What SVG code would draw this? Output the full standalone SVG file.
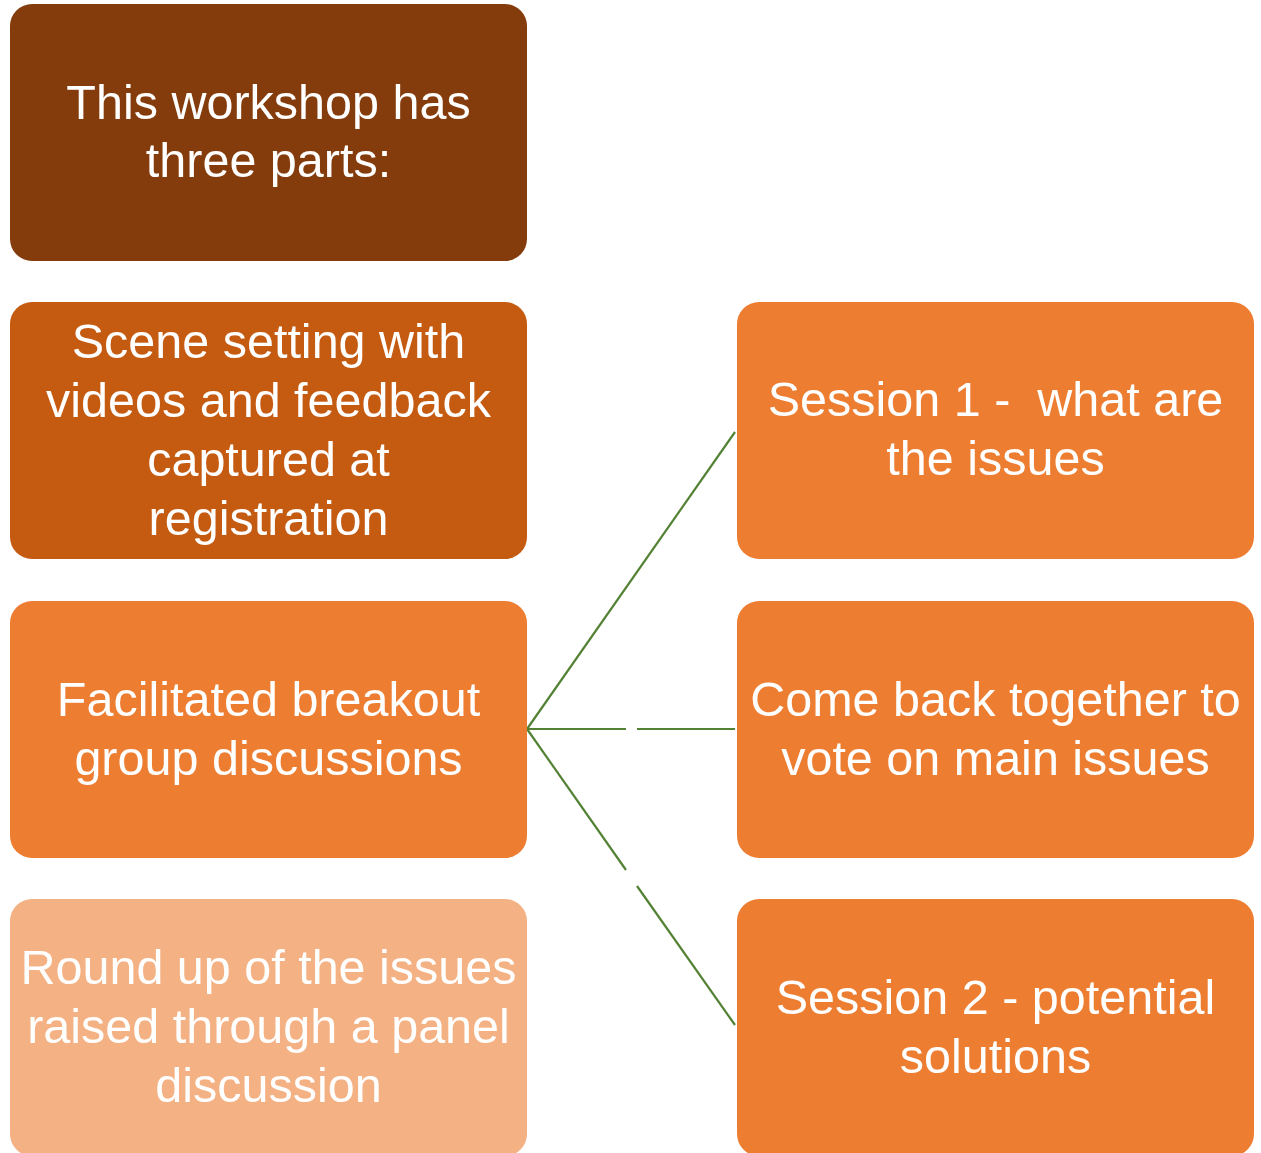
<svg xmlns="http://www.w3.org/2000/svg" width="1261" height="1153" viewBox="0 0 1261 1153">
<style>
.t{font-family:"Liberation Sans",Arial,sans-serif;font-size:48.5px;fill:#ffffff;text-anchor:middle}
.c{stroke:#548235;stroke-width:2.2;fill:none}
</style>
<rect width="1261" height="1153" fill="#ffffff"/>
<g id="connectors">
<line class="c" x1="527" y1="729" x2="735" y2="432"/>
<line class="c" x1="527" y1="729" x2="626" y2="729"/>
<line class="c" x1="637" y1="729" x2="735" y2="729"/>
<line class="c" x1="527" y1="729" x2="626" y2="870"/>
<line class="c" x1="637" y1="886" x2="735" y2="1025"/>
</g>
<g id="n-intro">
<rect x="10" y="4" width="517" height="257" rx="22" fill="#843C0C"/>
<text class="t" x="268.5"><tspan x="268.5" y="119">This workshop has</tspan><tspan x="268.5" y="177">three parts:</tspan></text>
</g>
<g id="n-scene">
<rect x="10" y="302" width="517" height="257" rx="22" fill="#C55A11"/>
<text class="t"><tspan x="268.5" y="358">Scene setting with</tspan><tspan x="268.5" y="417">videos and feedback</tspan><tspan x="268.5" y="476">captured at</tspan><tspan x="268.5" y="535">registration</tspan></text>
</g>
<g id="n-breakout">
<rect x="10" y="601" width="517" height="257" rx="22" fill="#ED7D31"/>
<text class="t"><tspan x="268.5" y="716">Facilitated breakout</tspan><tspan x="268.5" y="775">group discussions</tspan></text>
</g>
<g id="n-roundup">
<rect x="10" y="899" width="517" height="257" rx="22" fill="#F4B183"/>
<text class="t"><tspan x="268.5" y="984">Round up of the issues</tspan><tspan x="268.5" y="1043">raised through a panel</tspan><tspan x="268.5" y="1102">discussion</tspan></text>
</g>
<g id="n-session1">
<rect x="737" y="302" width="517" height="257" rx="22" fill="#ED7D31"/>
<text class="t" xml:space="preserve"><tspan x="995.5" y="416">Session 1 -  what are</tspan><tspan x="995.5" y="475">the issues</tspan></text>
</g>
<g id="n-vote">
<rect x="737" y="601" width="517" height="257" rx="22" fill="#ED7D31"/>
<text class="t"><tspan x="995.5" y="716">Come back together to</tspan><tspan x="995.5" y="775">vote on main issues</tspan></text>
</g>
<g id="n-session2">
<rect x="737" y="899" width="517" height="257" rx="22" fill="#ED7D31"/>
<text class="t"><tspan x="995.5" y="1014">Session 2 - potential</tspan><tspan x="995.5" y="1073">solutions</tspan></text>
</g>
</svg>
